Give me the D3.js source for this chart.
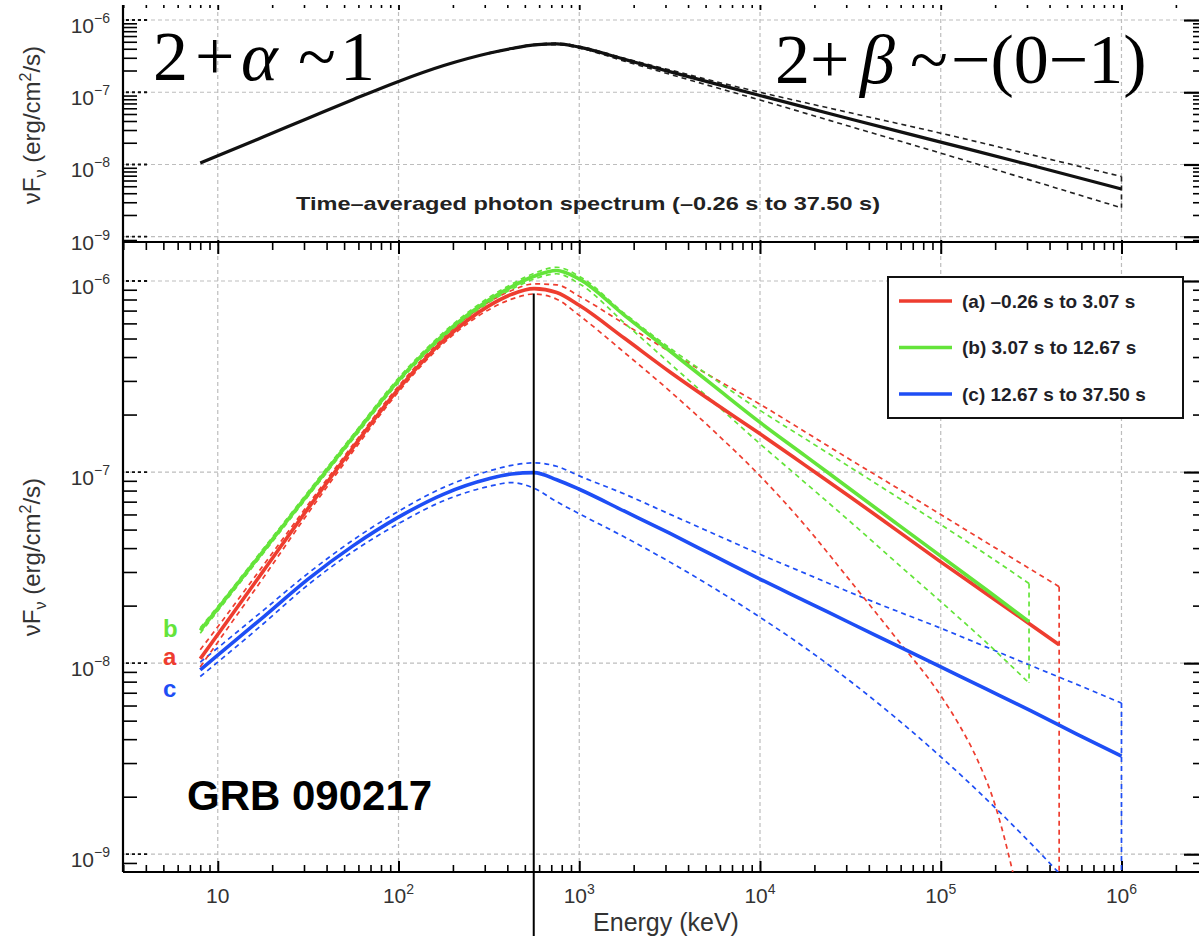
<!DOCTYPE html>
<html>
<head>
<meta charset="utf-8">
<title>GRB 090217 spectra</title>
<script src="https://cdn.jsdelivr.net/npm/d3@7/dist/d3.min.js"></script>
<style>
  html, body { margin: 0; padding: 0; background: #fff; }
  svg { display: block; }
  text { font-family: "Liberation Sans", Arial, Helvetica, sans-serif; }
</style>
</head>
<body>
<svg id="chart" width="1199" height="936"></svg>
<script>
// ---------------------------------------------------------------
// Spectral data: photon energy in keV, nuFnu in erg/cm^2/s
// ---------------------------------------------------------------
// quarter-decade energy grid (keV)
const energyGrid = [8, 10, 17.8, 31.6, 56.2, 100, 178, 316, 422, 562, 750, 1000, 1780, 3160, 5620,
  10000, 17800, 31600, 56200, 100000, 178000, 316000, 562000, 1000000];

// (a) -0.26 s to 3.07 s
const aEnergy = energyGrid.slice(0, 22).concat([452000]);
const aFlux  = [1.054e-8, 1.413e-8, 3.020e-8, 6.457e-8, 1.349e-7, 2.723e-7, 4.898e-7, 7.413e-7, 8.511e-7, 9.120e-7, 8.710e-7, 7.464e-7,
  5.012e-7, 3.350e-7, 2.291e-7, 1.585e-7, 1.084e-7, 7.413e-8, 5.012e-8, 3.388e-8, 2.317e-8, 1.585e-8, 1.247e-8];
const aUpper = [1.175e-8, 1.549e-8, 3.236e-8, 6.761e-8, 1.396e-7, 2.818e-7, 5.070e-7, 7.762e-7, 8.913e-7, 9.661e-7, 9.550e-7, 8.318e-7,
  5.957e-7, 4.266e-7, 3.090e-7, 2.265e-7, 1.622e-7, 1.161e-7, 8.356e-8, 5.998e-8, 4.295e-8, 3.090e-8, 2.512e-8];
const aLowerEnergy = energyGrid.slice(0, 20).concat([125900, 158500, 199500, 251200, 316200, 452000]);
const aLower = [9.550e-9, 1.288e-8, 2.786e-8, 6.095e-8, 1.288e-7, 2.630e-7, 4.732e-7, 7.079e-7, 8.035e-7, 8.551e-7, 8.035e-7, 6.607e-7,
  4.217e-7, 2.661e-7, 1.622e-7, 9.550e-8, 5.248e-8, 2.692e-8, 1.365e-8, 6.761e-9,
  4.786e-9, 3.162e-9, 1.820e-9, 7.943e-10, 2.818e-10, 3.981e-11];

// (b) 3.07 s to 12.67 s
const bEnergy = energyGrid.slice(0, 21).concat([308000]);
const bFlux  = [1.482e-8, 1.928e-8, 3.846e-8, 7.674e-8, 1.531e-7, 3.020e-7, 5.248e-7, 7.943e-7, 9.333e-7, 1.059e-6, 1.135e-6, 1.023e-6,
  6.607e-7, 4.315e-7, 2.799e-7, 1.820e-7, 1.216e-7, 8.128e-8, 5.433e-8, 3.631e-8, 2.427e-8, 1.648e-8];
const bUpper = [1.531e-8, 1.982e-8, 3.954e-8, 7.889e-8, 1.574e-7, 3.105e-7, 5.395e-7, 8.185e-7, 9.616e-7, 1.096e-6, 1.180e-6, 1.059e-6,
  6.761e-7, 4.467e-7, 3.055e-7, 2.104e-7, 1.493e-7, 1.059e-7, 7.499e-8, 5.309e-8, 3.715e-8, 2.612e-8];
const bLower = [1.435e-8, 1.875e-8, 3.741e-8, 7.464e-8, 1.489e-7, 2.938e-7, 5.105e-7, 7.709e-7, 9.057e-7, 1.023e-6, 1.091e-6, 9.683e-7,
  6.026e-7, 3.715e-7, 2.291e-7, 1.406e-7, 8.790e-8, 5.495e-8, 3.388e-8, 2.099e-8, 1.288e-8, 7.870e-9];

// (c) 12.67 s to 37.50 s
const cEnergy = energyGrid;
const cFlux  = [9.226e-9, 1.102e-8, 1.738e-8, 2.754e-8, 4.121e-8, 5.808e-8, 7.674e-8, 9.226e-8, 9.772e-8, 9.931e-8, 9.120e-8, 8.128e-8,
  6.237e-8, 4.786e-8, 3.631e-8, 2.754e-8, 2.113e-8, 1.622e-8, 1.245e-8, 9.550e-9, 7.328e-9, 5.623e-9, 4.266e-9, 3.258e-9];
const cUpper = [1.012e-8, 1.202e-8, 1.884e-8, 2.951e-8, 4.416e-8, 6.237e-8, 8.318e-8, 1.012e-7, 1.084e-7, 1.117e-7, 1.072e-7, 9.550e-8,
  7.674e-8, 6.026e-8, 4.732e-8, 3.715e-8, 2.951e-8, 2.344e-8, 1.884e-8, 1.524e-8, 1.216e-8, 9.705e-9, 7.762e-9, 6.180e-9];
const cLower = [8.511e-9, 1.012e-8, 1.603e-8, 2.570e-8, 3.846e-8, 5.370e-8, 7.079e-8, 8.414e-8, 8.810e-8, 8.222e-8, 6.998e-8, 6.053e-8,
  4.571e-8, 3.388e-8, 2.455e-8, 1.738e-8, 1.202e-8, 8.035e-9, 5.188e-9, 3.236e-9, 1.950e-9, 1.135e-9, 6.383e-10, 3.548e-10];

// Time-averaged spectrum (-0.26 s to 37.50 s)
const avgEnergy = [8, 10, 17.8, 31.6, 56.2, 100, 178, 316, 422, 562, 750, 1000, 1780, 3160, 5620, 10000, 31600, 100000, 316000, 1000000];
const avgFlux   = [1.047e-8, 1.318e-8, 2.399e-8, 4.365e-8, 7.943e-8, 1.413e-7, 2.344e-7, 3.467e-7, 4.027e-7, 4.519e-7, 4.677e-7, 4.217e-7,
  2.851e-7, 1.928e-7, 1.318e-7, 9.016e-8, 4.266e-8, 2.042e-8, 9.772e-9, 4.571e-9];
const avgBandEnergy = [316, 422, 562, 750, 1000, 1780, 3160, 5620, 10000, 31600, 100000, 316000, 1000000];
const avgUpper = [3.508e-7, 4.074e-7, 4.592e-7, 4.786e-7, 4.315e-7, 2.951e-7, 2.042e-7, 1.413e-7, 1.000e-7, 5.188e-8, 2.710e-8, 1.365e-8, 6.808e-9];
const avgLower = [3.428e-7, 3.981e-7, 4.446e-7, 4.571e-7, 4.074e-7, 2.692e-7, 1.778e-7, 1.175e-7, 7.816e-8, 3.350e-8, 1.435e-8, 6.026e-9, 2.512e-9];

// Peak-energy marker
const markerEnergy = 560;
const markerTopFlux = 8.6e-7;

// Text
const intervalKeys = ['a', 'b', 'c'];
const intervalLabels = ['(a) \u20130.26 s to 3.07 s', '(b) 3.07 s to 12.67 s', '(c) 12.67 s to 37.50 s'];
const averageTitle = 'Time\u2013averaged photon spectrum (\u20130.26 s to 37.50 s)';
const burstName = 'GRB 090217';
const xTitle = 'Energy (keV)';

// ---------------------------------------------------------------
// Layout
// ---------------------------------------------------------------
const svg = d3.select('#chart');
const W = 1199, H = 936;
const XL = 123, XR = 1201;
const TOP_Y0 = 5, SPLIT = 242, BOT_Y1 = 872;

const colors = { a: '#ee3d2f', b: '#64e43a', c: '#1e4ef5' };

const x = d3.scaleLog().domain([2.99, 2.754e6]).range([XL, XR]);
const yTop = d3.scaleLog().domain([8.45e-10, 1.614e-6]).range([SPLIT, TOP_Y0]);
const yBot = d3.scaleLog().domain([8.07e-10, 1.600e-6]).range([BOT_Y1, SPLIT]);

const isDecade = v => Math.abs(Math.log10(v) - Math.round(Math.log10(v))) < 1e-6;
const inDomain = (s, v) => v >= s.domain()[0] * 0.9999 && v <= s.domain()[1] * 1.0001;
const xTicks = x.ticks().filter(v => inDomain(x, v));
const xMajor = xTicks.filter(isDecade);
const xMinor = xTicks.filter(v => !isDecade(v));

// clip regions for the two panels
const defs = svg.append('defs');
defs.append('clipPath').attr('id', 'clipTop').append('rect')
  .attr('x', XL).attr('y', TOP_Y0).attr('width', XR - XL).attr('height', SPLIT - TOP_Y0);
defs.append('clipPath').attr('id', 'clipBot').append('rect')
  .attr('x', XL).attr('y', SPLIT).attr('width', XR - XL).attr('height', BOT_Y1 - SPLIT);

// ---------------------------------------------------------------
// Grid
// ---------------------------------------------------------------
function drawGrid(y, y0, y1) {
  const g = svg.append('g').attr('stroke', '#bdbdbd').attr('stroke-width', 1.2)
    .attr('stroke-dasharray', '4,3').attr('fill', 'none');
  xMajor.forEach(v => g.append('line').attr('x1', x(v)).attr('x2', x(v)).attr('y1', y0).attr('y2', y1));
  y.ticks().filter(v => inDomain(y, v) && isDecade(v)).forEach(v =>
    g.append('line').attr('x1', XL).attr('x2', XR).attr('y1', y(v)).attr('y2', y(v)));
}
drawGrid(yTop, TOP_Y0, SPLIT);
drawGrid(yBot, SPLIT, BOT_Y1);

// ---------------------------------------------------------------
// Axes (tick marks through d3 axis generators)
// ---------------------------------------------------------------
function ticksAxis(gen, scale, values, size, tx, ty, width) {
  const g = svg.append('g').attr('transform', `translate(${tx},${ty})`)
    .call(gen(scale).tickValues(values).tickSize(size).tickFormat(''));
  g.select('.domain').remove();
  g.selectAll('line').attr('stroke', '#000').attr('stroke-width', width);
  return g;
}

// top edge of the upper panel (only the ticks show)
ticksAxis(d3.axisBottom, x, xMinor, 3, 0, TOP_Y0, 1.6);
ticksAxis(d3.axisBottom, x, xMajor, 5, 0, TOP_Y0, 1.8);
// shared axis between the panels: ticks hang into the lower panel
ticksAxis(d3.axisBottom, x, xMinor, 8, 0, SPLIT, 1.6);
ticksAxis(d3.axisBottom, x, xMajor, 14, 0, SPLIT - 2, 2);
// bottom axis: ticks point up
ticksAxis(d3.axisTop, x, xMinor, 7, 0, BOT_Y1, 1.6);
ticksAxis(d3.axisTop, x, xMajor, 11, 0, BOT_Y1, 2);

function yAxes(y) {
  const t = y.ticks().filter(v => inDomain(y, v));
  const minor = t.filter(v => !isDecade(v));
  const major = t.filter(isDecade);
  ticksAxis(d3.axisRight, y, minor, 14, XL, 0, 1.6);
  ticksAxis(d3.axisLeft, y, minor, 8, XR, 0, 1.6);
  ticksAxis(d3.axisLeft, y, major, 17, XR, 0, 2.2);
  const gm = svg.append('g').attr('stroke', '#111').attr('stroke-width', 1.8).attr('stroke-dasharray', '3,3');
  major.forEach(v => gm.append('line').attr('x1', XL + 3).attr('x2', XL + 24).attr('y1', y(v)).attr('y2', y(v)));
  // labels 10^n
  major.forEach(v => {
    const e = Math.round(Math.log10(v));
    const lab = svg.append('text').attr('x', 110).attr('y', y(v) + 13)
      .attr('text-anchor', 'end').attr('font-size', 21).attr('fill', '#333');
    lab.append('tspan').text('10');
    lab.append('tspan').attr('dy', -10).attr('font-size', 14).text('\u2212' + Math.abs(e));
  });
}
yAxes(yTop);
yAxes(yBot);

// frame lines
svg.append('line').attr('x1', XL).attr('x2', XL).attr('y1', TOP_Y0).attr('y2', BOT_Y1)
  .attr('stroke', '#000').attr('stroke-width', 2.2);
svg.append('line').attr('x1', XL).attr('x2', XR).attr('y1', SPLIT).attr('y2', SPLIT)
  .attr('stroke', '#000').attr('stroke-width', 2.2);
svg.append('line').attr('x1', XL).attr('x2', XR).attr('y1', BOT_Y1).attr('y2', BOT_Y1)
  .attr('stroke', '#000').attr('stroke-width', 2.2);

// x tick labels
xMajor.forEach(v => {
  const e = Math.round(Math.log10(v));
  const t = svg.append('text').attr('x', x(v)).attr('y', 903)
    .attr('text-anchor', 'middle').attr('font-size', 21).attr('fill', '#333');
  t.append('tspan').text('10');
  if (e > 1) t.append('tspan').attr('dy', -9).attr('font-size', 14).text(e);
});

// axis titles
svg.append('text').attr('x', 666).attr('y', 931).attr('text-anchor', 'middle')
  .attr('font-size', 25).attr('fill', '#333').text(xTitle);

function yTitle(cy) {
  const t = svg.append('text').attr('transform', `translate(40,${cy}) rotate(-90)`)
    .attr('text-anchor', 'middle').attr('font-size', 24).attr('fill', '#333');
  t.append('tspan').text('\u03BDF');
  t.append('tspan').attr('dy', 6).attr('font-size', 16).text('\u03BD');
  t.append('tspan').attr('dy', -6).text(' (erg/cm');
  t.append('tspan').attr('dy', -9).attr('font-size', 16).text('2');
  t.append('tspan').attr('dy', 9).text('/s)');
}
yTitle(125);
yTitle(557);

// ---------------------------------------------------------------
// Curves
// ---------------------------------------------------------------
const pairs = (E, F) => E.map((e, i) => [e, F[i]]);
const lineFor = y => d3.line().x(d => x(d[0])).y(d => y(d[1])).curve(d3.curveMonotoneX);

const topLayer = svg.append('g').attr('clip-path', 'url(#clipTop)');
const botLayer = svg.append('g').attr('clip-path', 'url(#clipBot)');

function band(layer, y, upE, up, loE, lo, color, width, dash) {
  const ln = lineFor(y);
  const style = p => p.attr('fill', 'none').attr('stroke', color).attr('stroke-width', width)
    .attr('stroke-dasharray', dash);
  style(layer.append('path').attr('d', ln(pairs(upE, up))));
  style(layer.append('path').attr('d', ln(pairs(loE, lo))));
  // closing edge at the highest energy of the fit range
  const eEnd = upE[upE.length - 1];
  style(layer.append('line').attr('x1', x(eEnd)).attr('x2', x(eEnd))
    .attr('y1', y(up[up.length - 1])).attr('y2', y(lo[lo.length - 1])));
}

// upper panel: time-averaged spectrum
band(topLayer, yTop, avgBandEnergy, avgUpper, avgBandEnergy, avgLower, '#222', 1.6, '5,4');
topLayer.append('path').attr('d', lineFor(yTop)(pairs(avgEnergy, avgFlux)))
  .attr('fill', 'none').attr('stroke', '#111').attr('stroke-width', 3.2);

// lower panel: time-resolved spectra
const bands = {
  a: [aEnergy, aUpper, aLowerEnergy, aLower],
  b: [bEnergy, bUpper, bEnergy, bLower],
  c: [cEnergy, cUpper, cEnergy, cLower]
};
const solids = { a: [aEnergy, aFlux], b: [bEnergy, bFlux], c: [cEnergy, cFlux] };

['c', 'a', 'b'].forEach(k => {
  const [ue, u, le, l] = bands[k];
  band(botLayer, yBot, ue, u, le, l, colors[k], 1.7, '5,4');
});
['c', 'a', 'b'].forEach(k => {
  const [e, f] = solids[k];
  botLayer.append('path').attr('d', lineFor(yBot)(pairs(e, f)))
    .attr('fill', 'none').attr('stroke', colors[k]).attr('stroke-width', 3.6)
    .attr('stroke-linejoin', 'round');
});

// peak-energy marker
svg.append('line').attr('x1', x(markerEnergy)).attr('x2', x(markerEnergy))
  .attr('y1', yBot(markerTopFlux)).attr('y2', H)
  .attr('stroke', '#000').attr('stroke-width', 2);

// ---------------------------------------------------------------
// Legend
// ---------------------------------------------------------------
const leg = svg.append('g');
leg.append('rect').attr('x', 888).attr('y', 277).attr('width', 295).attr('height', 141)
  .attr('fill', '#fff').attr('stroke', '#111').attr('stroke-width', 2);
intervalKeys.forEach((k, i) => {
  const cy = 301 + i * 46.5;
  leg.append('line').attr('x1', 899).attr('x2', 952).attr('y1', cy).attr('y2', cy)
    .attr('stroke', colors[k]).attr('stroke-width', 3.5);
  leg.append('text').attr('x', 962).attr('y', cy + 6.5).attr('font-size', 19)
    .attr('font-weight', 'bold').attr('fill', '#1f1f28').text(intervalLabels[i]);
});

// ---------------------------------------------------------------
// Annotations
// ---------------------------------------------------------------
svg.append('text').attr('x', 296).attr('y', 210).attr('font-size', 19).attr('font-weight', 'bold')
  .attr('fill', '#222').attr('textLength', 584).attr('lengthAdjust', 'spacingAndGlyphs')
  .text(averageTitle);

function serifFormula(pieces, baseline) {
  const t = svg.append('text').attr('y', baseline).attr('font-size', 70)
    .attr('fill', '#000').style('font-family', '"Liberation Serif", "Times New Roman", serif');
  pieces.forEach(([px, s, it]) => {
    const ts = t.append('tspan').attr('x', px).text(s);
    if (it) ts.attr('font-style', 'italic');
  });
}
serifFormula([[153, '2'], [195, '+'], [241, '\u03B1', true], [298, '~'], [340, '1']], 80);
serifFormula([[775, '2+'], [860, '\u03B2', true], [910, '~'], [951, '\u2212(0\u22121)']], 83);

svg.append('text').attr('x', 187).attr('y', 810).attr('font-size', 42).attr('font-weight', 'bold')
  .attr('fill', '#000').text(burstName);

[['b', 637], ['a', 665], ['c', 697]].forEach(([k, by]) => {
  svg.append('text').attr('x', 163).attr('y', by).attr('font-size', 24).attr('font-weight', 'bold')
    .attr('fill', colors[k]).text(k);
});
</script>
</body>
</html>
